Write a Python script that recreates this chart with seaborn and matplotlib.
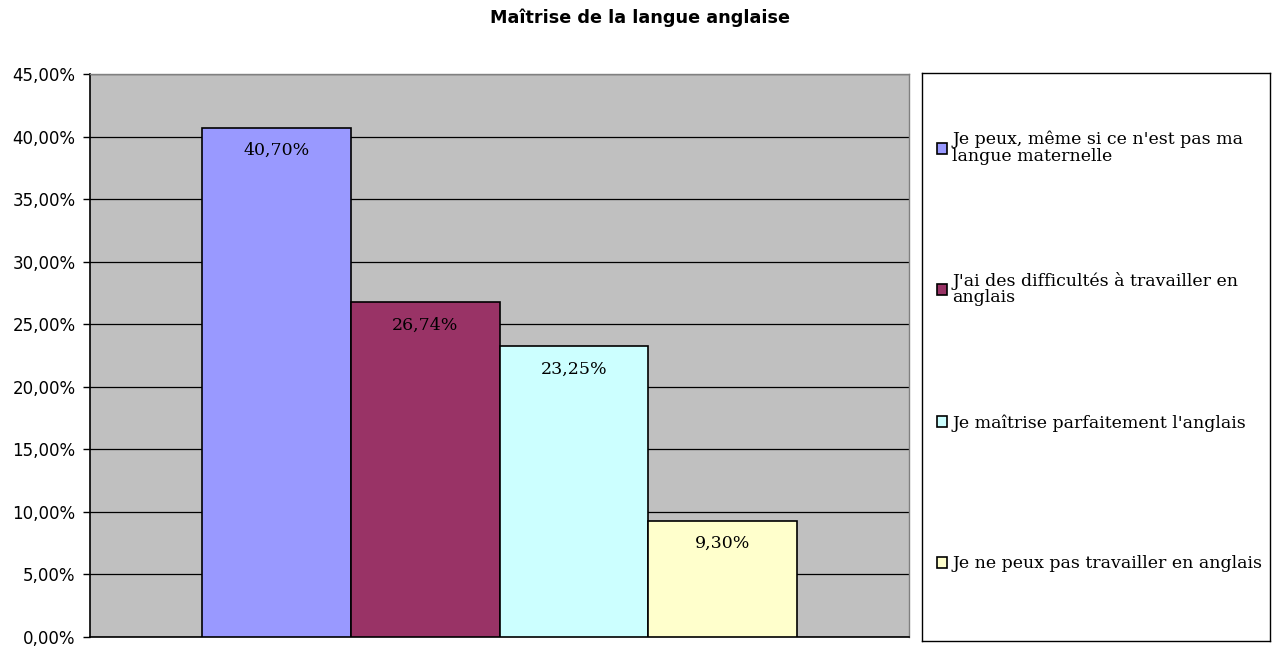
import matplotlib
matplotlib.use("Agg")
import matplotlib.pyplot as plt
import seaborn as sns
import pandas as pd
from matplotlib.patches import Patch
from matplotlib.legend import Legend
from matplotlib.ticker import FuncFormatter

title = "Maîtrise de la langue anglaise"
categories = [
    "Je peux, même si ce n'est pas ma\nlangue maternelle",
    "J'ai des difficultés à travailler en\nanglais",
    "Je maîtrise parfaitement l'anglais",
    "Je ne peux pas travailler en anglais",
]
values = [40.70, 26.74, 23.25, 9.30]
colors = ["#9999FF", "#993366", "#CCFFFF", "#FFFFCC"]
yticks = [0, 5, 10, 15, 20, 25, 30, 35, 40, 45]

sns.set_style("white")
plt.rcParams["font.family"] = ["DejaVu Sans"]
plt.rcParams["text.color"] = "black"
plt.rcParams["ytick.color"] = "black"
plt.rcParams["ytick.labelcolor"] = "black"

df = pd.DataFrame({"grp": [""] * len(values), "cat": categories, "val": values})

W, H = 1279, 648
fig = plt.figure(figsize=(W / 100, H / 100), dpi=100)
ax = fig.add_axes([90 / W, 11 / H, 819 / W, 563 / H])
ax.set_facecolor("#C0C0C0")

sns.barplot(data=df, x="grp", y="val", hue="cat", hue_order=categories,
            palette=colors, width=595 / 819, gap=0, edgecolor="black",
            linewidth=1.2, saturation=1, legend=False, ax=ax, zorder=3)

ax.set_xlim(-0.5, 0.5)
ax.set_ylim(0, 45)
ax.set_yticks(yticks)
ax.yaxis.set_major_formatter(FuncFormatter(lambda v, p: f"{v:.2f}".replace(".", ",") + "%"))
ax.grid(axis="y", color="black", linewidth=0.9, zorder=1)
ax.set_axisbelow(True)
ax.set_xticks([])
ax.set_xlabel("")
ax.set_ylabel("")
ax.tick_params(axis="y", which="both", left=True, length=5, width=1, color="black",
               labelcolor="black", labelsize=12, pad=5.5, direction="out")
for s in ["left", "bottom"]:
    ax.spines[s].set_color("black")
    ax.spines[s].set_linewidth(1.2)
for s in ["top", "right"]:
    ax.spines[s].set_color("#808080")
    ax.spines[s].set_linewidth(1.0)

for bar, v in zip(ax.patches, values):
    ax.annotate(f"{v:.2f}".replace(".", ",") + "%",
                xy=(bar.get_x() + bar.get_width() / 2, bar.get_height()),
                xytext=(0, -23), textcoords="offset pixels",
                ha="center", va="center", fontsize=12.5, family="DejaVu Serif",
                color="black", zorder=5)

fig.text(0.5, 1 - 18 / H, title, ha="center", va="center", fontsize=12.7,
         fontweight="bold", family="DejaVu Sans", color="black")

# legend box
lax_top, lax_bot = 73, 641
lax = fig.add_axes([922 / W, (H - lax_bot) / H, 348 / W, (lax_bot - lax_top) / H])
lax.set_xticks([])
lax.set_yticks([])
lax.set_facecolor("white")
for s in lax.spines.values():
    s.set_color("black")
    s.set_linewidth(1.0)

entry_centers_px = [148, 289, 423, 564]
for c, lab, yc in zip(colors, categories, entry_centers_px):
    h = Patch(facecolor=c, edgecolor="black", linewidth=1.2)
    leg = Legend(lax, [h], [lab], loc="center left",
                 bbox_to_anchor=(0.0, (lax_bot - yc) / (lax_bot - lax_top)),
                 frameon=False, handlelength=0.6, handleheight=0.6,
                 handletextpad=0.3, borderaxespad=0.45, borderpad=0.4,
                 prop={"family": "DejaVu Serif", "size": 12.5})
    for t in leg.get_texts():
        t.set_color("black")
        t.set_linespacing(1.0)
    lax.add_artist(leg)

fig.savefig("out.png", dpi=100)
